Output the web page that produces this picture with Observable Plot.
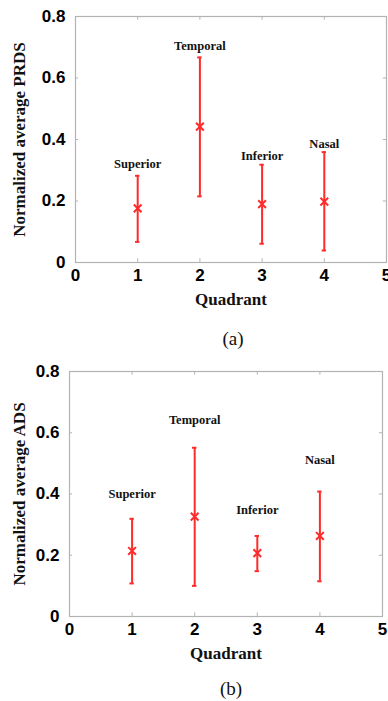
<!DOCTYPE html>
<html>
<head>
<meta charset="utf-8">
<script src="https://cdn.jsdelivr.net/npm/d3@7"></script>
<script src="https://cdn.jsdelivr.net/npm/@observablehq/plot@0.6"></script>
<style>
  html, body { margin: 0; padding: 0; background: #fff; }
  body { width: 388px; height: 701px; position: relative; overflow: hidden; }
  .chart { position: absolute; left: 0; }
  .cap { position: absolute; font-family: "Liberation Serif", "Times New Roman", serif; font-size: 19px; color: #111; transform: translate(-50%, -50%); white-space: nowrap; }
</style>
</head>
<body>
<div id="chartA" class="chart" style="top:0px"></div>
<div class="cap" style="left:233px; top:339px">(a)</div>
<div id="chartB" class="chart" style="top:350px"></div>
<div class="cap" style="left:231px; top:689px">(b)</div>
<script>
// ---- data ----
const quadrants = [1, 2, 3, 4];
const regions = ["Superior", "Temporal", "Inferior", "Nasal"];

const prdsMean = [0.176, 0.442, 0.190, 0.198];
const prdsLow  = [0.067, 0.215, 0.061, 0.039];
const prdsHigh = [0.282, 0.667, 0.318, 0.359];
const prdsLabelY = [0.319, 0.703, 0.346, 0.386];

const adsMean = [0.214, 0.326, 0.207, 0.263];
const adsLow  = [0.108, 0.100, 0.148, 0.115];
const adsHigh = [0.319, 0.551, 0.263, 0.408];
const adsLabelY = [0.400, 0.642, 0.349, 0.510];

const xTicks = [0, 1, 2, 3, 4, 5];
const yTicks = [0, 0.2, 0.4, 0.6, 0.8];

const RED = "#ff2b2b";
const GREY = "#b3b3b3";
const SANS = "'Liberation Sans', Arial, sans-serif";
const SERIF = "'Liberation Serif', 'Times New Roman', serif";

function makeChart(mean, low, high, labelY, yTitle, m) {
  const rows = quadrants.map((q, i) => ({q, name: regions[i], mean: mean[i], low: low[i], high: high[i], ly: labelY[i]}));
  return Plot.plot({
    width: 388,
    height: m.height,
    marginTop: m.top,
    marginBottom: m.bottom,
    marginLeft: m.left,
    marginRight: m.right,
    style: {background: "#fff", overflow: "visible"},
    x: {domain: [0, 5]},
    y: {domain: [0, 0.8]},
    marks: [
      Plot.frame({stroke: GREY, strokeWidth: 1.2}),
      // inward ticks on all four sides
      Plot.ruleX(xTicks.slice(1, -1), {x: d => d, y1: 0, y2: 0.012, stroke: GREY}),
      Plot.ruleX(xTicks.slice(1, -1), {x: d => d, y1: 0.8, y2: 0.788, stroke: GREY}),
      Plot.ruleY(yTicks.slice(1, -1), {y: d => d, x1: 0, x2: 0.05, stroke: GREY}),
      Plot.ruleY(yTicks.slice(1, -1), {y: d => d, x1: 5, x2: 4.95, stroke: GREY}),
      Plot.axisX(xTicks, {anchor: "bottom", tickSize: 0, tickPadding: 6, label: null, fontSize: 17, fontWeight: "bold", fontFamily: SANS, fill: "#000"}),
      Plot.axisY(yTicks, {anchor: "left", tickSize: 0, tickPadding: 10, label: null, tickFormat: d => String(d), fontSize: 17, fontWeight: "bold", fontFamily: SANS, fill: "#000"}),
      // error bars
      Plot.ruleX(rows, {x: "q", y1: "low", y2: "high", stroke: RED, strokeWidth: 2}),
      Plot.ruleY(rows, {y: "low", x1: d => d.q - 0.035, x2: d => d.q + 0.035, stroke: RED, strokeWidth: 2}),
      Plot.ruleY(rows, {y: "high", x1: d => d.q - 0.035, x2: d => d.q + 0.035, stroke: RED, strokeWidth: 2}),
      Plot.dot(rows, {x: "q", y: "mean", symbol: "times", r: 3.6, stroke: RED, strokeWidth: 2}),
      // region labels
      Plot.text(rows, {x: "q", y: "ly", text: "name", fontFamily: SERIF, fontWeight: "bold", fontSize: 12.5, fill: "#111"}),
      // axis titles
      Plot.text([yTitle], {frameAnchor: "left", textAnchor: "middle", dx: m.ytDx, rotate: -90, fontFamily: SERIF, fontWeight: "bold", fontSize: 17, fill: "#111"}),
      Plot.text(["Quadrant"], {frameAnchor: "bottom", dy: 42, fontFamily: SERIF, fontWeight: "bold", fontSize: 17, fill: "#111"})
    ]
  });
}

document.getElementById("chartA").appendChild(
  makeChart(prdsMean, prdsLow, prdsHigh, prdsLabelY, "Normalized average PRDS",
    {height: 330, top: 16, bottom: 68, left: 75, right: 2, ytDx: -56})
);
document.getElementById("chartB").appendChild(
  makeChart(adsMean, adsLow, adsHigh, adsLabelY, "Normalized average ADS",
    {height: 330, top: 21, bottom: 64, left: 69, right: 6, ytDx: -50})
);
</script>
</body>
</html>
